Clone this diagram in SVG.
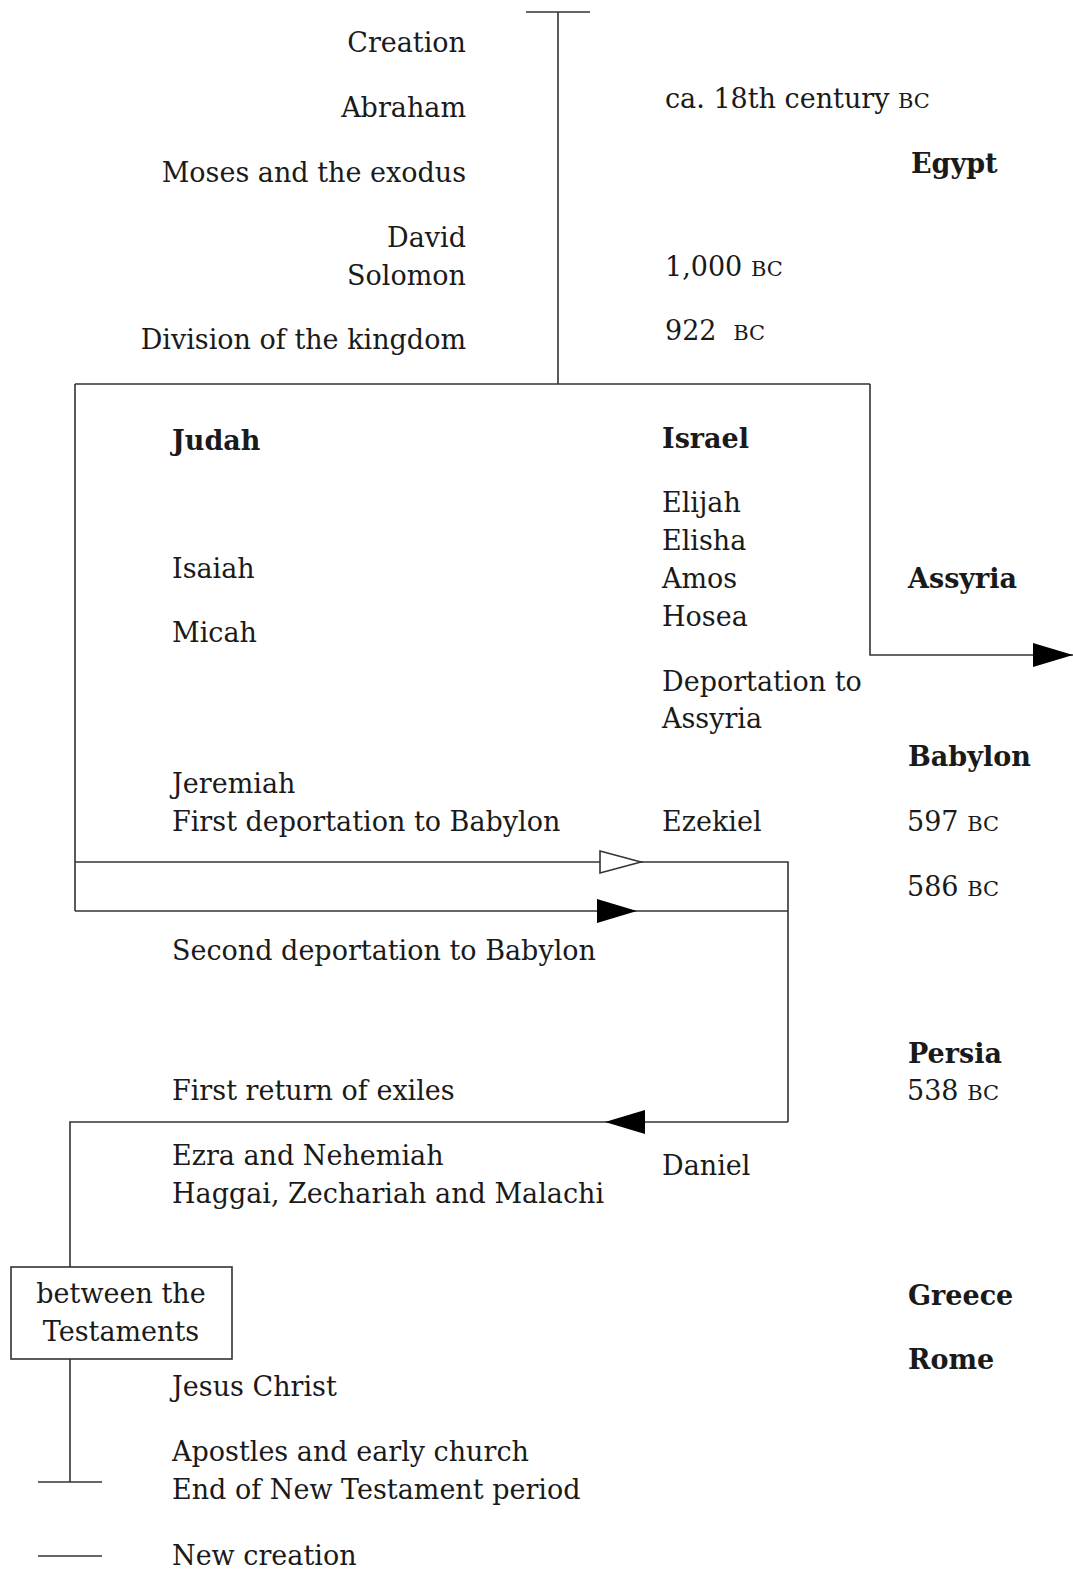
<svg xmlns="http://www.w3.org/2000/svg" width="1073" height="1572" viewBox="0 0 1073 1572">
<style>
text{font-family:"DejaVu Serif","Liberation Serif",serif;font-size:27px;fill:#1a1a1a}
.r{text-anchor:end}
.c{text-anchor:middle}
.b{font-weight:bold}
.sc{font-size:21px}
.ln{stroke:#333;stroke-width:1.6;fill:none}
</style>
<defs>
<marker id="af" markerWidth="40" markerHeight="26" viewBox="0 0 40 26" refX="40" refY="13" orient="auto" markerUnits="userSpaceOnUse"><path d="M0,1 L40,13 L0,25 Z" fill="#000"/></marker>
<marker id="ah" markerWidth="44" markerHeight="26" viewBox="0 0 44 26" refX="43" refY="13" orient="auto" markerUnits="userSpaceOnUse"><path d="M1,2 L42,13 L1,24 Z" fill="#fff" stroke="#333" stroke-width="1.6"/></marker>
</defs>
<g id="connectors">
<path class="ln" d="M526,12 H590 M558,12 V384"/>
<path class="ln" d="M75,384 H870 M75,384 V911"/>
<path class="ln" d="M870,384 V655 H1073" marker-end="url(#af)"/>
<path class="ln" d="M75,862 H642"/>
<path class="ln" d="M600,862 H642" marker-end="url(#ah)"/>
<path class="ln" d="M642,862 H788 V1122"/>
<path class="ln" d="M75,911 H637" marker-end="url(#af)"/>
<path class="ln" d="M637,911 H788"/>
<path class="ln" d="M788,1122 H605" marker-end="url(#af)"/>
<path class="ln" d="M605,1122 H70 V1267"/>
<path class="ln" d="M70,1359 V1482 M38,1482 H102"/>
<path class="ln" d="M38,1556 H102"/>
</g>
<g id="node-left-top">
<text class="r" x="466" y="52">Creation</text>
<text class="r" x="466" y="117">Abraham</text>
<text class="r" x="466" y="182">Moses and the exodus</text>
<text class="r" x="466" y="247">David</text>
<text class="r" x="466" y="285">Solomon</text>
<text class="r" x="466" y="349">Division of the kingdom</text>
</g>
<g id="node-dates-top">
<text x="665" y="108">ca. 18th century <tspan class="sc">BC</tspan></text>
<text x="665" y="276">1,000 <tspan class="sc">BC</tspan></text>
<text x="665" y="340">922  <tspan class="sc" dx="8">BC</tspan></text>
<text class="b" x="911" y="173">Egypt</text>
</g>
<g id="node-judah">
<text class="b" x="172" y="450">Judah</text>
<text x="172" y="578">Isaiah</text>
<text x="172" y="642">Micah</text>
<text x="172" y="793">Jeremiah</text>
<text x="172" y="831">First deportation to Babylon</text>
<text x="172" y="960">Second deportation to Babylon</text>
<text x="172" y="1100">First return of exiles</text>
<text x="172" y="1165">Ezra and Nehemiah</text>
<text x="172" y="1203">Haggai, Zechariah and Malachi</text>
</g>
<g id="node-israel">
<text class="b" x="662" y="448">Israel</text>
<text x="662" y="512">Elijah</text>
<text x="662" y="550">Elisha</text>
<text x="662" y="588">Amos</text>
<text x="662" y="626">Hosea</text>
<text x="662" y="691">Deportation to</text>
<text x="662" y="728">Assyria</text>
<text x="662" y="831">Ezekiel</text>
<text x="662" y="1175">Daniel</text>
</g>
<g id="node-empires">
<text class="b" x="908" y="588">Assyria</text>
<text class="b" x="908" y="766">Babylon</text>
<text x="907" y="831">597 <tspan class="sc">BC</tspan></text>
<text x="907" y="896">586 <tspan class="sc">BC</tspan></text>
<text class="b" x="908" y="1063">Persia</text>
<text x="907" y="1100">538 <tspan class="sc">BC</tspan></text>
<text class="b" x="908" y="1305">Greece</text>
<text class="b" x="908" y="1369">Rome</text>
</g>
<g id="node-between">
<rect x="11" y="1267" width="221" height="92" fill="#fff" stroke="#333" stroke-width="1.6"/>
<text class="c" x="121" y="1303">between the</text>
<text class="c" x="121" y="1341">Testaments</text>
</g>
<g id="node-nt">
<text x="172" y="1396">Jesus Christ</text>
<text x="172" y="1461">Apostles and early church</text>
<text x="172" y="1499">End of New Testament period</text>
<text x="172" y="1565">New creation</text>
</g>
</svg>
